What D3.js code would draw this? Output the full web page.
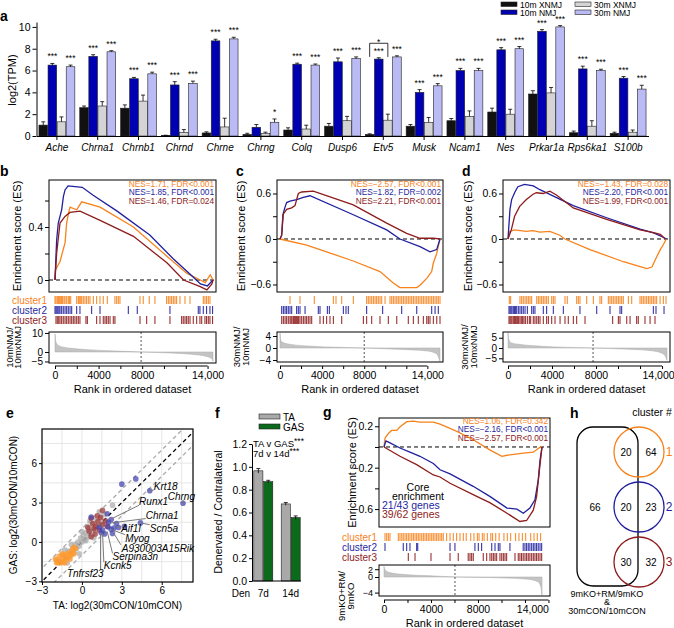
<!DOCTYPE html>
<html>
<head>
<meta charset="utf-8">
<script src="https://cdn.jsdelivr.net/npm/d3@7/dist/d3.min.js"></script>
<style>
  body { margin: 0; background: #fff; }
  svg { display: block; font-family: "Liberation Sans", Arial, sans-serif; }
</style>
</head>
<body>
<svg id="fig" width="674" height="628"></svg>
<script>
// ---------- a: marker genes, log2(TPM) ----------
const genes = ["Ache", "Chrna1", "Chrnb1", "Chrnd", "Chrne", "Chrng", "Colq", "Dusp6", "Etv5",
  "Musk", "Ncam1", "Nes", "Prkar1a", "Rps6ka1", "S100b"];
const series = ["10m XNMJ", "10m NMJ", "30m XNMJ", "30m NMJ"];
const xnmj10 = [1.0, 2.6, 2.55, 0.05, 0.28, 0.15, 0.55, 0.9, 0.15, 0.9, 1.4, 2.2, 3.85, 0.3, 0.25];
const nmj10 = [6.5, 7.3, 5.25, 4.68, 8.72, 0.8, 6.58, 6.8, 7.05, 4.0, 6.0, 7.9, 9.6, 6.15, 5.3];
const xnmj30 = [1.3, 2.75, 3.2, 0.34, 0.83, 0.25, 0.64, 1.4, 1.45, 1.25, 1.8, 2.0, 3.95, 0.9, 0.35];
const nmj30 = [6.35, 7.72, 5.7, 4.83, 8.9, 1.26, 6.5, 7.1, 7.25, 4.6, 6.0, 8.0, 10.0, 6.0, 4.3];
const sem10x = [0.3, 0.15, 0.3, 0.02, 0.1, 0.1, 0.2, 0.25, 0.05, 0.15, 0.2, 0.35, 0.3, 0.15, 0.1];
const sem10 = [0.15, 0.15, 0.12, 0.3, 0.15, 0.25, 0.1, 0.35, 0.12, 0.25, 0.2, 0.2, 0.15, 0.25, 0.15];
const sem30x = [0.45, 0.4, 0.55, 0.25, 0.8, 0.1, 0.35, 0.4, 0.55, 0.45, 0.5, 0.45, 0.5, 0.5, 0.2];
const sem30 = [0.15, 0.1, 0.15, 0.2, 0.15, 0.3, 0.1, 0.15, 0.1, 0.2, 0.2, 0.2, 0.12, 0.12, 0.35];
const sig10 = ["***", "***", "***", "***", "***", "", "***", "***", "***", "***", "***", "***", "***", "***", "***"];
const sig30 = ["***", "***", "***", "***", "***", "*", "***", "***", "***", "***", "***", "***", "***", "***", "***"];

// ---------- b/c/d/g: GSEA running scores [rank, ES] ----------
const bOrange = [[0, 0], [40, 0.075], [460, 0.14], [920, 0.28], [1070, 0.43], [1225, 0.5], [1380, 0.55], [1990, 0.53], [2450, 0.59], [4140, 0.55], [7200, 0.4], [10270, 0.18], [12110, 0.05], [13330, 0], [13790, -0.02], [14250, 0.04], [14500, 0]];
const bBlue = [[0, 0], [150, 0.3], [300, 0.43], [610, 0.53], [770, 0.63], [920, 0.68], [1200, 0.71], [2500, 0.7], [3500, 0.64], [5700, 0.52], [8700, 0.34], [10850, 0.16], [12700, 0.02], [13350, -0.03], [13980, -0.045], [14500, 0]];
const bRed = [[0, 0], [150, 0.2], [460, 0.43], [920, 0.48], [1380, 0.51], [2300, 0.52], [4140, 0.45], [7200, 0.33], [10270, 0.13], [11800, 0], [13330, -0.05], [13940, -0.075], [14400, -0.03], [14500, 0]];
const cOrange = [[0, 0], [2540, -0.08], [6960, -0.29], [9500, -0.43], [10760, -0.58], [11400, -0.64], [12990, -0.64], [13300, -0.61], [13940, -0.52], [14410, -0.43], [14560, -0.32], [14890, -0.19], [15100, -0.06], [15200, 0]];
const cBlue = [[0, 0], [160, 0.05], [316, 0.34], [475, 0.42], [633, 0.48], [950, 0.5], [1583, 0.52], [2216, 0.55], [2850, 0.57], [6965, 0.32], [10133, 0.12], [11400, 0], [13300, -0.1], [14250, -0.17], [14883, -0.14], [15200, 0]];
const cRed = [[0, 0], [160, 0.05], [270, 0.32], [633, 0.39], [1108, 0.41], [1425, 0.44], [1741, 0.6], [2058, 0.62], [3166, 0.63], [6965, 0.45], [10133, 0.21], [12033, 0.075], [13300, 0.01], [14566, 0.012], [15200, 0]];
const dOrange = [[0, 0], [150, 0.1], [600, 0.12], [1670, 0.1], [2280, 0.11], [2890, 0.09], [3800, 0.1], [4710, 0.05], [5170, 0], [7450, -0.14], [10490, -0.3], [12010, -0.365], [12620, -0.39], [13080, -0.37], [13530, -0.23], [13840, -0.14], [14140, -0.07], [14380, 0]];
const dBlue = [[0, 0], [180, 0.39], [330, 0.52], [630, 0.62], [900, 0.69], [1500, 0.72], [2300, 0.7], [2900, 0.65], [5930, 0.44], [8970, 0.28], [12010, 0.13], [13230, 0.08], [14000, 0.03], [14400, 0]];
const dRed = [[0, 0], [300, 0.12], [600, 0.3], [1060, 0.43], [1670, 0.52], [2280, 0.59], [2580, 0.61], [3190, 0.6], [3800, 0.63], [4400, 0.58], [5930, 0.41], [8970, 0.26], [12010, 0.12], [13230, 0.085], [13840, 0.06], [14300, 0]];
const gOrange = [[0, 0], [85, 0.085], [370, 0.13], [650, 0.16], [1080, 0.16], [1370, 0.196], [1940, 0.245], [2500, 0.25], [3070, 0.24], [4200, 0.24], [4770, 0.22], [5620, 0.18], [6200, 0.15], [7590, 0.07], [9040, -0.03], [10040, -0.09], [10470, -0.08], [11860, -0.06], [12710, -0.05], [13310, 0], [13450, 0]];
const gBlue = [[0, 0], [85, 0.03], [170, 0.058], [510, 0.04], [1360, -0.01], [2210, -0.05], [3060, -0.09], [4200, -0.16], [4770, -0.22], [5620, -0.26], [7590, -0.38], [9040, -0.48], [10470, -0.59], [11320, -0.6], [11860, -0.64], [12420, -0.59], [12850, -0.51], [13130, -0.32], [13280, -0.13], [13450, 0]];
const gRed = [[0, 0], [1360, -0.09], [2780, -0.17], [4200, -0.27], [4770, -0.29], [5620, -0.35], [7590, -0.46], [9040, -0.54], [10470, -0.64], [11570, -0.72], [12140, -0.71], [12710, -0.61], [12990, -0.48], [13280, -0.17], [13450, 0]];

// hit ranks of clusters 1-3
const bHits1 = [0, 90, 210, 310, 400, 520, 610, 700, 830, 920, 1070, 1220, 1320, 1440, 1990, 2140, 2230, 2360, 2450, 2600, 2750, 2900, 3060, 3210, 3520, 3820, 4130, 4430, 4800, 5500, 5660, 5810, 5960, 7800, 8100, 8650, 9170, 10240, 10400, 10550, 10700, 10860, 11010, 11160, 11470, 11930, 12390, 13610, 13760, 13910, 14070, 14220];
const bHits2 = [0, 90, 180, 270, 370, 460, 610, 760, 920, 1070, 1220, 1380, 1530, 1990, 2290, 3360, 4130, 6730, 7550, 10550, 13150, 13300, 13610, 13910, 14220, 14460];
const bHits3 = [90, 210, 340, 460, 610, 760, 920, 1070, 1220, 1380, 1530, 1680, 1830, 1990, 2140, 2290, 2840, 2970, 3820, 4130, 4430, 4590, 4740, 4890, 5050, 5350, 5500, 7800, 8410, 9170, 10550, 11620, 11770, 11930, 12080, 12230, 12390, 12690, 13000, 13300, 13460, 13760, 13910, 14070, 14220, 14460];
const cHits1 = [950, 1900, 3260, 5070, 5320, 5860, 6970, 8230, 8390, 8550, 8710, 8870, 9030, 9180, 9340, 9500, 9660, 9980, 10450, 10610, 10770, 10930, 11090, 11240, 11400, 11560, 11720, 11880, 12040, 12190, 12350, 12510, 12670, 12830, 12990, 13140, 13300, 13460, 13620, 13780, 13940, 14090, 14250, 14410, 14570, 14730, 14890, 15040, 15200];
const cHits2 = [160, 320, 480, 630, 790, 950, 1110, 1580, 1740, 1900, 2380, 3640, 3800, 4500, 4690, 6020, 6270, 6490, 8230, 9750, 11560, 12990, 14410, 14730, 15040];
const cHits3 = [160, 320, 480, 630, 790, 950, 1050, 1140, 1270, 1360, 1460, 1580, 1680, 1770, 1900, 2060, 2220, 2380, 2530, 2690, 2850, 3010, 3800, 4120, 4430, 4750, 5070, 5860, 7920, 8230, 8710, 9500, 10290, 11090, 12190, 12670, 13140, 13620, 13940, 14090, 14250, 14570, 14890, 15200];
const dHits1 = [120, 240, 1090, 1240, 1390, 1550, 1700, 1850, 2000, 2150, 2610, 2760, 2910, 3060, 3210, 3360, 3510, 3670, 3970, 4120, 4270, 5180, 5390, 6240, 6390, 6540, 7150, 7760, 8360, 8510, 9120, 9270, 9420, 9570, 9730, 9880, 10030, 10180, 10330, 10480, 10940, 11240, 12000, 12150, 12300, 12450, 12600, 12760, 12910, 13060, 13210, 13360, 13510, 13820, 14120, 14360];
const dHits2 = [90, 180, 270, 360, 480, 580, 670, 790, 940, 1090, 1240, 1390, 1550, 1760, 2150, 2300, 2450, 3210, 3510, 4120, 5030, 6540, 8060, 9270, 10180, 10330, 13210, 13450, 14180];
const dHits3 = [90, 180, 270, 360, 480, 580, 670, 790, 880, 970, 1090, 1210, 1330, 1450, 1580, 1760, 1940, 2060, 2300, 2450, 2610, 2760, 2910, 3210, 3510, 3670, 3970, 4270, 4730, 5180, 5480, 5940, 6240, 7000, 9510, 10030, 10180, 10790, 11090, 11690, 11840, 12450, 12910, 13360];
const gHits1 = [85, 230, 370, 510, 1220, 1360, 1510, 1640, 1790, 1930, 2070, 2210, 2360, 2500, 2640, 2780, 2920, 3060, 3210, 3350, 3490, 3630, 3770, 3910, 4060, 4200, 4340, 4480, 4620, 4770, 4910, 5050, 5330, 5620, 5900, 6180, 6470, 6750, 7000, 7380, 7660, 7950, 8090, 8370, 8520, 8800, 9090, 9240, 9510, 9800, 10210, 10500, 10780, 11200, 11490, 11780, 12060, 12490, 12770, 13050, 13330];
const gHits2 = [85, 1640, 1930, 2210, 2780, 2870, 5620, 6040, 7740, 8030, 8310, 9170, 9450, 9730, 9870, 10720, 11850, 12000, 12140, 12280, 12420, 12570, 12710, 12850, 12990, 13130, 13280, 13420];
const gHits3 = [2070, 2640, 4000, 5620, 6320, 7170, 7320, 7460, 7600, 8450, 8740, 9020, 9170, 9310, 9450, 9590, 9870, 10020, 10160, 10300, 10440, 11150, 11430, 11570, 11710, 11850, 12000, 12140, 12280, 12420, 12570, 12710, 12850, 12990, 13130, 13280, 13420];

// ranked list metric [rank, value]
const bMetric = [[0, 9.5], [60, 6], [150, 4.5], [400, 3.2], [800, 2.5], [1500, 1.9], [3000, 1.2], [5000, 0.6], [7900, 0], [9500, -0.3], [11500, -0.8], [13000, -1.5], [14000, -2.5], [14400, -3.5], [14500, -5]];
const cMetric = [[0, 5], [80, 2.5], [300, 1.8], [1000, 1.2], [3000, 0.6], [8000, 0], [11000, -0.4], [14000, -1.0], [14900, -2.0], [15100, -3.5], [15200, -4.5]];
const dMetric = [[0, 7.5], [80, 4], [300, 2.5], [1000, 1.8], [3000, 0.9], [7730, 0], [11000, -0.6], [13000, -1.3], [14000, -2.5], [14300, -4], [14450, -6]];
const gMetric = [[0, 2.7], [100, 1.8], [400, 1.2], [1500, 0.7], [4000, 0.3], [6040, 0], [9000, -0.15], [12000, -0.5], [13100, -1.2], [13350, -2.5], [13450, -4.7]];
const rankTicks = [0, 2000, 4000, 6000, 8000, 10000, 12000, 14000];
const rankLabels = [0, 4000, 8000, 14000];

const bNes = ["NES=1.71, FDR<0.001", "NES=1.85, FDR<0.001", "NES=1.46, FDR=0.024"];
const cNes = ["NES=\u22122.57, FDR<0.001", "NES=1.82, FDR=0.002", "NES=2.21, FDR<0.001"];
const dNes = ["NES=\u22121.43, FDR=0.028", "NES=2.20, FDR<0.001", "NES=1.99, FDR<0.001"];
const gNes = ["NES=1.06, FDR=0.342", "NES=\u22122.16, FDR<0.001", "NES=\u22122.57, FDR<0.001"];
const clusterNames = ["cluster1", "cluster2", "cluster3"];

// ---------- e: TA vs GAS log2 fold change ----------
const eGrey = [[-1.9, -1.4], [-1.6, -1.5], [-1.4, -1.0], [-1.2, -1.2], [-1.0, -0.7], [-0.9, -1.0], [-0.7, -0.5], [-0.6, -0.8], [-0.5, -0.2], [-0.4, -0.5], [-0.3, 0.0], [-0.2, -0.3], [-0.1, 0.3], [0.0, 0.0], [0.1, 0.5], [0.2, 0.2], [0.3, 0.7], [0.3, 0.1], [0.5, 0.9], [0.5, 0.4], [0.7, 1.1], [0.8, 0.6], [0.9, 1.4], [1.0, 0.9], [1.1, 1.7], [1.2, 1.2], [1.4, 1.9], [1.5, 1.4], [1.7, 2.1], [2.3, 2.8], [-0.8, -0.2], [-1.3, -0.6], [0.0, 0.8], [0.6, 1.6], [-0.2, -0.9], [1.3, 2.3], [1.9, 1.6], [-1.1, -1.6], [0.4, 1.2], [0.9, 0.3]];
const eOrange = [[-2.0, -1.3], [-1.8, -1.5], [-1.7, -1.1], [-1.6, -1.6], [-1.5, -1.3], [-1.4, -1.5], [-1.3, -1.0], [-1.2, -1.3], [-1.1, -0.9], [-1.0, -1.2], [-0.9, -0.8], [-0.8, -1.0], [-0.7, -0.6], [-0.6, -0.9], [-0.6, -0.4], [-1.5, -0.9], [-1.9, -1.6], [-0.9, -1.3], [-1.3, -1.6], [-0.5, -0.5]];
const eRed = [[1.55, 2.4], [0.7, 1.8], [1.4, 1.85], [1.05, 1.2], [0.55, 0.8], [0.7, 0.4], [1.55, 1.3], [1.2, 1.55], [0.9, 1.0], [1.3, 0.9], [0.8, 1.4], [1.75, 1.6], [1.0, 0.6], [0.45, 1.1], [1.9, 1.2], [1.15, 2.0]];
const eBlue = [[3.0, 4.4], [4.05, 4.8], [5.1, 3.9], [7.6, 2.95], [4.4, 1.45], [0.7, 1.9], [1.9, 2.15], [2.2, 1.7], [1.95, 1.15], [2.75, 1.1], [2.3, 0.65], [1.55, 0.9], [2.6, 1.4], [2.4, 1.05], [1.7, 0.6], [1.45, 0.7], [2.2, 0.95], [2.0, 1.5], [1.3, 1.1], [3.2, 1.2]];
// gene, point x, point y, label x, label baseline y (data units)
const eLabels = [["Krt18", 5.1, 3.9, 5.4, 3.95], ["Chrng", 7.6, 2.95, 6.45, 3.2], ["Runx1", 2.3, 1.8, 4.3, 2.8],
  ["Chrna1", 2.2, 1.45, 4.8, 1.78], ["Scn5a", 4.4, 1.45, 5.1, 0.78], ["Aif1l", 2.6, 1.1, 2.95, 0.72],
  ["Myog", 2.2, 0.95, 3.25, 0.02], ["A930003A15Rik", 2.4, 0.65, 3.0, -0.75], ["Serpina3n", 1.9, 0.8, 2.3, -1.4],
  ["Kcnk5", 1.55, 0.65, 1.65, -2.08], ["Tnfrsf23", 1.4, 0.7, -1.13, -2.65]];

// ---------- f: muscle mass ratio ----------
const fGroups = ["7d", "14d"];
const fMuscles = ["TA", "GAS"];
const fTA = [0.965, 0.675];
const fGAS = [0.87, 0.555];
const fTAsem = [0.02, 0.012];
const fGASsem = [0.012, 0.015];

// ---------- h: overlap counts ----------
const hShared = [20, 20, 30];
const hOnly = [64, 23, 32];
const hOther = 66;

const svg = d3.select("#fig");
const ORANGE = "#f7821b", BLUE = "#1f1fa0", RED = "#8e1b1b";
const clusterColors = [ORANGE, BLUE, RED];
const fmt1 = d => d === 0 ? "0" : d3.format(".1f")(d);

function txt(g, x, y, s, size, o = {}) {
  const t = g.append("text").attr("x", x).attr("y", y).attr("font-size", size).text(s);
  if (o.anchor) t.attr("text-anchor", o.anchor);
  if (o.fill) t.attr("fill", o.fill);
  if (o.bold) t.attr("font-weight", "bold");
  if (o.italic) t.attr("font-style", "italic");
  return t;
}
function vtxt(g, x, y, s, size, fill) {
  return g.append("text").attr("transform", `translate(${x},${y}) rotate(-90)`)
    .attr("text-anchor", "middle").attr("dy", "0.35em").attr("font-size", size)
    .attr("fill", fill || "#000").text(s);
}
function tidy(a, size) {
  a.attr("font-family", null).attr("font-size", size);
  a.selectAll("line,path").attr("stroke", "#000");
}

// panel letters
[["a", 0, 21], ["b", 0, 176], ["c", 236, 176], ["d", 462, 176], ["e", 6, 418],
 ["f", 215, 418], ["g", 323, 417], ["h", 570, 418]].forEach(([l, x, y]) => txt(svg, x, y, l, 14, { bold: true }));

// ================= panel a =================
const pa = svg.append("g");
const xa = d3.scaleBand().domain(genes).range([36.5, 648.5]).paddingInner(0.12).paddingOuter(0.06);
const xs = d3.scaleBand().domain(series).range([0, xa.bandwidth()]).paddingInner(0.05);
const ya = d3.scaleLinear().domain([0, 10.45]).range([136, 22]);
const aVals = [xnmj10, nmj10, xnmj30, nmj30];
const aErr = [sem10x, sem10, sem30x, sem30];
const aFill = ["#111111", "#0000b3", "#d4d4d4", "#babaf4"];
const bars = genes.flatMap((gn, gi) => series.map((s, si) => ({ gn, gi, s, si, v: aVals[si][gi], e: aErr[si][gi] })));
const bx = d => xa(d.gn) + xs(d.s) + xs.bandwidth() / 2;

pa.selectAll("rect.bar").data(bars).join("rect").attr("class", "bar")
  .attr("x", d => xa(d.gn) + xs(d.s)).attr("y", d => ya(d.v))
  .attr("width", xs.bandwidth()).attr("height", d => ya(0) - ya(d.v))
  .attr("fill", d => aFill[d.si]).attr("stroke", "#222").attr("stroke-width", 0.6);
pa.selectAll("path.err").data(bars).join("path").attr("class", "err")
  .attr("d", d => `M${bx(d)},${ya(d.v)}V${ya(d.v + d.e)}M${bx(d) - 2},${ya(d.v + d.e)}H${bx(d) + 2}`)
  .attr("stroke", "#000").attr("stroke-width", 0.8).attr("fill", "none");
pa.selectAll("text.sig").data(bars.filter(d => d.si === 1 || d.si === 3)).join("text").attr("class", "sig")
  .attr("x", bx).attr("y", d => ya(d.v + d.e) - 4).attr("text-anchor", "middle").attr("font-size", 8.5)
  .text(d => (d.si === 1 ? sig10 : sig30)[d.gi]);

// Etv5 10m XNMJ vs 30m XNMJ
{
  const x1 = xa("Etv5") + xs(series[0]) + xs.bandwidth() / 2;
  const x2 = xa("Etv5") + xs(series[2]) + xs.bandwidth() / 2;
  pa.append("path").attr("d", `M${x1},${ya(7.25)}V${ya(8.5)}H${x2}V${ya(7.25)}`)
    .attr("fill", "none").attr("stroke", "#000").attr("stroke-width", 0.8);
  txt(pa, (x1 + x2) / 2, ya(8.5) + 1.5, "*", 8.5, { anchor: "middle" });
}

pa.append("g").attr("transform", "translate(36.5,0)")
  .call(d3.axisLeft(ya).tickValues([0, 2, 4, 6, 8, 10]).tickSize(4).tickPadding(2).tickSizeOuter(0))
  .call(a => tidy(a, 10.5));
pa.append("g").attr("transform", "translate(0,136)")
  .call(d3.axisBottom(xa).tickSize(4).tickPadding(4).tickSizeOuter(0))
  .call(a => { tidy(a, 10); a.selectAll("text").attr("font-style", "italic"); });
vtxt(pa, 12, 80, "log2(TPM)", 11);

// legend
series.forEach((s, i) => {
  const lx = i < 2 ? 501 : 575, ly = i % 2 === 0 ? 2 : 10;
  pa.append("rect").attr("x", lx).attr("y", ly).attr("width", 16).attr("height", 4.5)
    .attr("fill", aFill[i]).attr("stroke", "#222").attr("stroke-width", 0.6);
  txt(pa, lx + 19, ly + 5.5, s, 8.5);
});

// ================= GSEA panels =================
function gsea(o) {
  const g = svg.append("g");
  const [bx0, by0, bx1, by1] = o.box;
  const x = d3.scaleLinear().domain([0, o.n]).range(o.xr);
  const y = d3.scaleLinear().domain(o.esDom).range([by1, by0]);

  g.append("g").attr("transform", `translate(${bx0},0)`)
    .call(d3.axisLeft(y).tickValues(o.esTicks).tickSize(4).tickPadding(2)
      .tickFormat(d => o.esLabels.includes(d) ? fmt1(d) : ""))
    .call(a => { a.select(".domain").remove(); tidy(a, 10.5); });
  g.append("line").attr("x1", bx0).attr("x2", bx1).attr("y1", y(0)).attr("y2", y(0))
    .attr("stroke", "#000").attr("stroke-dasharray", "4,3").attr("stroke-width", 1);

  const line = d3.line().x(d => x(d[0])).y(d => y(d[1]));
  g.selectAll("path.es").data(o.curves).join("path").attr("class", "es")
    .attr("d", line).attr("fill", "none").attr("stroke", (d, i) => clusterColors[i]).attr("stroke-width", 1.3);
  g.append("rect").attr("x", bx0).attr("y", by0).attr("width", bx1 - bx0).attr("height", by1 - by0)
    .attr("fill", "none").attr("stroke", "#000").attr("stroke-width", 1);

  o.nes.forEach((s, i) => txt(g, o.nesX, o.nesY + i * 8.3, s, 8.3, { anchor: "end", fill: clusterColors[i] }));
  vtxt(g, o.esTitleX, (by0 + by1) / 2, "Enrichment score (ES)", 11);

  o.hits.forEach((arr, i) => {
    g.append("g").selectAll("line").data(arr).join("line")
      .attr("x1", d => x(d)).attr("x2", d => x(d))
      .attr("y1", o.rows[i] - 4).attr("y2", o.rows[i] + 4)
      .attr("stroke", clusterColors[i]).attr("stroke-width", 1.1).attr("stroke-opacity", 0.9);
    if (o.rowLabels) txt(g, o.labelX, o.rows[i] + 3.5, clusterNames[i], 10, { anchor: "end", fill: clusterColors[i] });
  });

  const [my0, my1] = o.mBox;
  const ym = d3.scaleLinear().domain(o.mDom).range([my1, my0]);
  const area = d3.area().x(d => x(d[0])).y0(ym(0)).y1(d => ym(d[1])).curve(d3.curveMonotoneX);
  g.append("path").datum(o.metric).attr("d", area).attr("fill", "#c4c4c4").attr("stroke", "#aaa").attr("stroke-width", 0.5);
  g.append("line").attr("x1", x(o.cut)).attr("x2", x(o.cut)).attr("y1", my0).attr("y2", my1)
    .attr("stroke", "#555").attr("stroke-dasharray", "2,2");
  g.append("rect").attr("x", bx0).attr("y", my0).attr("width", bx1 - bx0).attr("height", my1 - my0)
    .attr("fill", "none").attr("stroke", "#000").attr("stroke-width", 1);
  g.append("g").attr("transform", `translate(${bx0},0)`)
    .call(d3.axisLeft(ym).tickValues(o.mTicks).tickSize(4).tickPadding(2).tickFormat(d3.format("d")))
    .call(a => { a.select(".domain").remove(); tidy(a, o.mFont || 10); });
  o.mTitle.forEach((s, i) => vtxt(g, o.mTitleX[i], o.mTitleY || (my0 + my1) / 2, s, 9.5));

  const xa2 = g.append("g").attr("transform", `translate(0,${o.axisY})`)
    .call(d3.axisBottom(x).tickValues(rankTicks).tickSize(3).tickPadding(2.5).tickSizeOuter(0)
      .tickFormat(d => rankLabels.includes(d) ? (d >= 10000 ? d3.format(",")(d) : String(d)) : ""))
    .call(a => tidy(a, 10.5));
  xa2.select(".domain").attr("d", `M${x(0)},0H${x(14000)}`);
  const last = xa2.selectAll(".tick text").filter(d => d === 14000);
  if (o.lastEnd) last.attr("text-anchor", "end");
  if (o.lastDx) last.attr("dx", o.lastDx);
  txt(g, (bx0 + bx1) / 2, o.titleY, "Rank in ordered dataset", 11, { anchor: "middle" });
}

gsea({ box: [49, 180, 216, 292], n: 14500, xr: [55, 213], esDom: [-0.0906, 0.755],
  esTicks: [0, 0.2, 0.4, 0.6], esLabels: [0, 0.4], curves: [bOrange, bBlue, bRed],
  nes: bNes, nesX: 214, nesY: 187, hits: [bHits1, bHits2, bHits3], rows: [300, 310, 320],
  rowLabels: true, labelX: 47, mBox: [332, 363], mDom: [-5.8, 10.5], mTicks: [10, 0, -5],
  metric: bMetric, cut: 7900, axisY: 366, titleY: 393, esTitleX: 17,
  mTitleX: [10, 18], mTitle: ["10mNMJ/", "10mxNMJ"] });

gsea({ box: [277, 180, 443, 292], n: 15200, xr: [280, 440], esDom: [-0.699, 0.778],
  esTicks: [-0.6, -0.3, 0, 0.3, 0.6], esLabels: [-0.6, 0, 0.6], curves: [cOrange, cBlue, cRed],
  nes: cNes, nesX: 441, nesY: 187, hits: [cHits1, cHits2, cHits3], rows: [300, 310, 320],
  rowLabels: false, mBox: [332, 362], mDom: [-4.67, 5.33], mTicks: [4, 0, -4],
  metric: cMetric, cut: 8000, axisY: 366, titleY: 393, esTitleX: 241,
  mTitleX: [237, 246], mTitle: ["30mNMJ/", "10mNMJ"] });

gsea({ box: [503, 180, 670, 292], n: 14450, xr: [508, 667], esDom: [-0.699, 0.778],
  esTicks: [-0.6, -0.3, 0, 0.3, 0.6], esLabels: [-0.6, 0, 0.6], curves: [dOrange, dBlue, dRed],
  nes: dNes, nesX: 668, nesY: 187, hits: [dHits1, dHits2, dHits3], rows: [300, 310, 320],
  rowLabels: false, mBox: [332, 362], mDom: [-6.8, 7.8], mTicks: [5, 0, -5],
  metric: dMetric, cut: 7730, axisY: 366, titleY: 393, esTitleX: 468,
  mTitleX: [465, 474], mTitle: ["30mxNMJ/", "10mxNMJ"], lastDx: -4 });

gsea({ box: [379, 418, 550, 527], n: 13450, xr: [384, 542], esDom: [-0.773, 0.28],
  esTicks: [-0.6, -0.4, -0.2, 0, 0.2], esLabels: [0.2, -0.2, -0.6], curves: [gOrange, gBlue, gRed],
  nes: gNes, nesX: 548, nesY: 424, hits: [gHits1, gHits2, gHits3], rows: [537, 547, 557],
  rowLabels: true, labelX: 377, mBox: [565, 596], mDom: [-4.87, 3.08], mTicks: [2, 0, -4], mFont: 9,
  metric: gMetric, cut: 6040, axisY: 600, titleY: 627, esTitleX: 352,
  mTitleX: [342, 351], mTitleY: 596, mTitle: ["9mKO+RM/", "9mKO"], lastEnd: true });

// core enrichment note in g
{
  const pg = svg.append("g");
  txt(pg, 418, 490.5, "Core", 10.5, { anchor: "middle" });
  txt(pg, 418, 500, "enrichment", 10.5, { anchor: "middle" });
  txt(pg, 382, 508.5, "21/43 genes", 10.5, { fill: BLUE });
  txt(pg, 382, 518, "39/62 genes", 10.5, { fill: RED });
}

// ================= panel e =================
{
  const pe = svg.append("g");
  const ex = d3.scaleLinear().domain([-3, 8.35]).range([42, 193]);
  const ey = d3.scaleLinear().domain([-3.05, 8.6]).range([582, 429]);
  const grid = d3.range(-1.5, 8.5, 1.5);
  pe.append("g").selectAll("line").data(grid).join("line")
    .attr("x1", d => ex(d)).attr("x2", d => ex(d)).attr("y1", 429).attr("y2", 582).attr("stroke", "#e6e6e6");
  pe.append("g").selectAll("line").data(grid).join("line")
    .attr("y1", d => ey(d)).attr("y2", d => ey(d)).attr("x1", 42).attr("x2", 193).attr("stroke", "#e6e6e6");
  svg.append("clipPath").attr("id", "eclip").append("rect").attr("x", 42).attr("y", 429).attr("width", 151).attr("height", 153);
  const diag = pe.append("g").attr("clip-path", "url(#eclip)");
  [[-1, "#aaaaaa"], [1, "#aaaaaa"], [0, "#000"]].forEach(([off, c]) => {
    diag.append("line").attr("x1", ex(-4)).attr("y1", ey(-4 + off)).attr("x2", ex(9)).attr("y2", ey(9 + off))
      .attr("stroke", c).attr("stroke-width", 1.3).attr("stroke-dasharray", "4,3");
  });
  const groups = [[eGrey, "#a8a8a8", 0.7], [eOrange, "#ff9a2e", 0.8], [eRed, "#a23a3a", 0.75], [eBlue, "#4747b0", 0.75]];
  groups.forEach(([pts, c, op]) => {
    pe.append("g").selectAll("circle").data(pts).join("circle")
      .attr("cx", d => ex(d[0])).attr("cy", d => ey(d[1])).attr("r", 2.8)
      .attr("fill", c).attr("fill-opacity", op);
  });
  const lineG = pe.append("g"), textG = pe.append("g");
  eLabels.forEach(([gene, px, py, lx, ly]) => {
    const t = txt(textG, ex(lx), ey(ly), gene, 10, { italic: true });
    const bb = t.node().getBBox();
    const cx = ex(px), cy = ey(py);
    const tx = Math.max(bb.x, Math.min(cx, bb.x + bb.width));
    const ty = Math.max(bb.y + 2, Math.min(cy, bb.y + bb.height - 2));
    lineG.append("line").attr("x1", cx).attr("y1", cy).attr("x2", tx).attr("y2", ty)
      .attr("stroke", "#7a7a7a").attr("stroke-width", 1);
  });
  pe.append("rect").attr("x", 42).attr("y", 429).attr("width", 151).attr("height", 153)
    .attr("fill", "none").attr("stroke", "#000").attr("stroke-width", 1.2);
  pe.append("g").attr("transform", "translate(0,582)")
    .call(d3.axisBottom(ex).tickValues([-3, 0, 3, 6]).tickSize(3).tickPadding(2).tickSizeOuter(0).tickFormat(d3.format("d")))
    .call(a => { a.select(".domain").remove(); tidy(a, 10); });
  pe.append("g").attr("transform", "translate(42,0)")
    .call(d3.axisLeft(ey).tickValues([-3, 0, 3, 6]).tickSize(3).tickPadding(2).tickSizeOuter(0).tickFormat(d3.format("d")))
    .call(a => { a.select(".domain").remove(); tidy(a, 10); });
  txt(pe, 117.5, 609, "TA: log2(30mCON/10mCON)", 10, { anchor: "middle" });
  vtxt(pe, 13, 505, "GAS: log2(30mCON/10mCON)", 10);
}

// ================= panel f =================
{
  const pf = svg.append("g");
  const fy = d3.scaleLinear().domain([0, 1.2]).range([581, 444]);
  const fx = d3.scaleBand().domain(fGroups).range([253, 301]).paddingInner(0.25);
  const fs = d3.scaleBand().domain(fMuscles).range([0, fx.bandwidth()]).padding(0.08);
  const fFill = ["#a9a9a9", "#0b6a1c"];
  const rows = fGroups.flatMap((gr, i) => [
    { gr, m: "TA", v: fTA[i], e: fTAsem[i], k: 0 },
    { gr, m: "GAS", v: fGAS[i], e: fGASsem[i], k: 1 }]);
  pf.selectAll("rect.fb").data(rows).join("rect").attr("class", "fb")
    .attr("x", d => fx(d.gr) + fs(d.m)).attr("y", d => fy(d.v))
    .attr("width", fs.bandwidth()).attr("height", d => fy(0) - fy(d.v))
    .attr("fill", d => fFill[d.k]).attr("stroke", "#222").attr("stroke-width", 0.6);
  pf.selectAll("path.fe").data(rows).join("path").attr("class", "fe")
    .attr("d", d => {
      const cx = fx(d.gr) + fs(d.m) + fs.bandwidth() / 2;
      return `M${cx},${fy(d.v - d.e)}V${fy(d.v + d.e)}M${cx - 2},${fy(d.v + d.e)}H${cx + 2}`;
    })
    .attr("stroke", "#000").attr("stroke-width", 0.8).attr("fill", "none");
  pf.append("g").attr("transform", "translate(252,0)")
    .call(d3.axisLeft(fy).tickValues([0, 0.2, 0.4, 0.6, 0.8, 1.0, 1.2]).tickSize(3).tickPadding(2)
      .tickSizeOuter(0).tickFormat(d3.format(".1f")))
    .call(a => tidy(a, 10.5));
  pf.append("g").attr("transform", "translate(0,581)")
    .call(d3.axisBottom(fx).tickSize(0).tickPadding(9))
    .call(a => { tidy(a, 10); a.select(".domain").attr("d", "M252,0H301"); });
  txt(pf, 241, 597, "Den", 10, { anchor: "middle" });
  vtxt(pf, 218, 512, "Denervated / Contralateral", 10.5);
  fMuscles.forEach((m, i) => {
    pf.append("rect").attr("x", 259).attr("y", 414 + i * 10).attr("width", 21).attr("height", 5)
      .attr("fill", fFill[i]).attr("stroke", "#222").attr("stroke-width", 0.6);
    txt(pf, 283, 420.5 + i * 10, m, 10);
  });
  [["TA v GAS", 447], ["7d v 14d", 457]].forEach(([s, yy]) => {
    const t = txt(pf, 253, yy, s, 9.5);
    t.append("tspan").attr("dy", -3).attr("font-size", 8.5).text("***");
  });
}

// ================= panel h =================
{
  const ph = svg.append("g");
  txt(ph, 652, 416, "cluster #", 10.5, { anchor: "middle" });
  ph.append("rect").attr("x", 577).attr("y", 427).attr("width", 61).attr("height", 159).attr("rx", 16)
    .attr("fill", "none").attr("stroke", "#000").attr("stroke-width", 1.3);
  const hcy = [452, 507, 562];
  hcy.forEach((cy, i) => {
    ph.append("circle").attr("cx", 639).attr("cy", cy).attr("r", 25)
      .attr("fill", "none").attr("stroke", clusterColors[i]).attr("stroke-width", 1.3);
    txt(ph, 626, cy, hShared[i], 10, { anchor: "middle" }).attr("dy", "0.35em");
    txt(ph, 651, cy, hOnly[i], 10, { anchor: "middle" }).attr("dy", "0.35em");
    txt(ph, 669, cy, i + 1, 12, { anchor: "middle", fill: clusterColors[i] }).attr("dy", "0.35em");
  });
  txt(ph, 595, 507, hOther, 10, { anchor: "middle" }).attr("dy", "0.35em");
  txt(ph, 607, 596.5, "9mKO+RM/9mKO", 9, { anchor: "middle" });
  txt(ph, 607, 605, "&", 9, { anchor: "middle" });
  txt(ph, 607, 613.5, "30mCON/10mCON", 9, { anchor: "middle" });
}
</script>
</body>
</html>
